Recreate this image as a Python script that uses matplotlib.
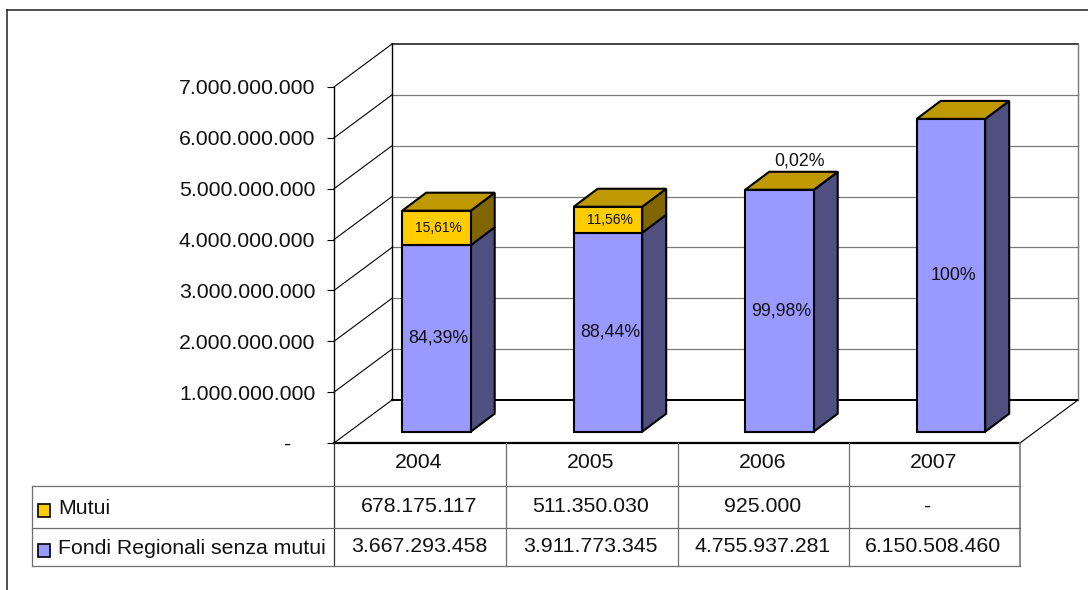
import matplotlib
matplotlib.use("Agg")
import matplotlib.pyplot as plt
from matplotlib.patches import Rectangle

plt.rcParams['font.family'] = ['Liberation Sans', 'DejaVu Sans']

years = ["2004", "2005", "2006", "2007"]
mutui = [678175117, 511350030, 925000, 0]
fondi = [3667293458, 3911773345, 4755937281, 6150508460]
pct_mutui = ["15,61%", "11,56%", "0,02%", ""]
pct_fondi = ["84,39%", "88,44%", "99,98%", "100%"]
ticks = [0, 1000000000, 2000000000, 3000000000, 4000000000, 5000000000, 6000000000, 7000000000]
name_mutui = "Mutui"
name_fondi = "Fondi Regionali senza mutui"

W, H = 1088, 590
C_BLUE, C_BLUE_SIDE = "#9999FF", "#4F4F80"
C_YEL, C_YEL_SIDE, C_YEL_TOP = "#FFCC00", "#806600", "#BF9900"
TXT = "#111111"


def fmt(v):
    return "-" if v == 0 else f"{v:,}".replace(",", ".")


fig = plt.figure(figsize=(W / 100, H / 100), dpi=100, facecolor="white")

# Main axes = front plane of the 3D box
L, R, B, T = 334, 1020, 443, 87
ax = fig.add_axes([L / W, 1 - B / H, (R - L) / W, (B - T) / H])
ax.set_xlim(0, 4)
ax.set_ylim(0, 7e9)
ax.patch.set_alpha(0)
for s in ax.spines.values():
    s.set_visible(False)

px_x = 4 / (R - L)
px_y = 7e9 / (B - T)
wall_dx, wall_dy = 58 * px_x, 43 * px_y
bar_w = 68.5 * px_x
bar_off_x = 68.2 * px_x
bar_off_y = 11.3 * px_y
dep_dx, dep_dy = 24 * px_x, 18 * px_y

# Walls and floor
for t in ticks[1:-1]:
    ax.plot([wall_dx, 4 + wall_dx], [t + wall_dy] * 2, color="#7a7a7a", lw=0.9, clip_on=False, zorder=1)
ax.plot([wall_dx, 4 + wall_dx], [7e9 + wall_dy] * 2, color="#111111", lw=1.1, clip_on=False, zorder=1)
ax.plot([wall_dx, 4 + wall_dx], [wall_dy] * 2, color="black", lw=1.4, clip_on=False, zorder=1)
ax.plot([4 + wall_dx] * 2, [wall_dy, 7e9 + wall_dy], color="#7a7a7a", lw=1.0, clip_on=False, zorder=1)
ax.plot([wall_dx] * 2, [wall_dy, 7e9 + wall_dy], color="black", lw=1.0, clip_on=False, zorder=1)
ax.plot([0, 0], [0, 7e9], color="black", lw=1.0, clip_on=False, zorder=1)
for t in ticks:
    ax.plot([0, wall_dx], [t, t + wall_dy], color="black", lw=0.8, clip_on=False, zorder=1)
ax.plot([4, 4 + wall_dx], [0, wall_dy], color="black", lw=0.8, clip_on=False, zorder=1)
ax.plot([0, 4], [0, 0], color="black", lw=1.6, clip_on=False, zorder=2)

ax.set_xticks([])
ax.set_yticks(ticks, [fmt(t) + ("    " if t == 0 else "") for t in ticks])
ax.tick_params(axis="y", length=5, width=0.8, pad=8.5, labelsize=15.3, labelcolor=TXT)

# Bars
EC, LW = "black", 1.5
for i in range(len(years)):
    x0 = i + bar_off_x
    x1 = x0 + bar_w
    y0 = bar_off_y
    y1 = y0 + fondi[i]
    y2 = y1 + mutui[i]
    # side faces
    ax.fill([x1, x1 + dep_dx, x1 + dep_dx, x1],
            [y0, y0 + dep_dy, y1 + dep_dy, y1],
            facecolor=C_BLUE_SIDE, edgecolor=EC, lw=LW, zorder=3, clip_on=False)
    if mutui[i] > 0:
        ax.fill([x1, x1 + dep_dx, x1 + dep_dx, x1],
                [y1, y1 + dep_dy, y2 + dep_dy, y2],
                facecolor=C_YEL_SIDE, edgecolor=EC, lw=LW, zorder=3, clip_on=False)
    # top face
    ax.fill([x0, x1, x1 + dep_dx, x0 + dep_dx],
            [y2, y2, y2 + dep_dy, y2 + dep_dy],
            facecolor=C_YEL_TOP, edgecolor=EC, lw=LW, zorder=3, clip_on=False)
    # front faces
    ax.bar(x0, fondi[i], width=bar_w, bottom=y0, align="edge",
           facecolor=C_BLUE, edgecolor=EC, lw=LW, zorder=4, clip_on=False)
    if mutui[i] > 1e7:
        ax.bar(x0, mutui[i], width=bar_w, bottom=y1, align="edge",
               facecolor=C_YEL, edgecolor=EC, lw=LW, zorder=4, clip_on=False)
    # labels
    cx = x0 + bar_w / 2 + 2 * px_x
    ax.text(cx, y0 + fondi[i] / 2, pct_fondi[i], ha="center", va="center",
            fontsize=12.8, color=TXT, zorder=6)
    if mutui[i] > 1e7:
        ax.text(cx, y1 + mutui[i] / 2, pct_mutui[i], ha="center", va="center",
                fontsize=10, color=TXT, zorder=6)
    elif pct_mutui[i]:
        ax.text(x0 + bar_w / 2 + dep_dx - 4 * px_x, y2 + dep_dy + 11 * px_y, pct_mutui[i], ha="center", va="center",
                fontsize=12.8, color=TXT, zorder=6)

# Overlay in pixel space: data table and outer frame
ov = fig.add_axes([0, 0, 1, 1])
ov.set_xlim(0, W)
ov.set_ylim(H, 0)
ov.axis("off")
ov.patch.set_alpha(0)

ov.plot([7, 7], [10, H], color="#222222", lw=1.1)
ov.plot([7, W], [10, 10], color="#222222", lw=1.1)

cols = [334, 506, 678, 849, 1020]
rows = [443, 486, 528, 566]
GRID = "#6e6e6e"
for c in cols[:-1]:
    ov.plot([c, c], [rows[0], rows[-1]], color="#333333" if c == 334 else GRID, lw=0.9)
ov.plot([cols[-1]] * 2, [rows[0], rows[-1]], color="#777777", lw=1.2)
ov.plot([32, 32], [rows[1], rows[-1]], color=GRID, lw=0.9)
for r in rows[1:]:
    ov.plot([32, cols[-1]], [r, r], color=GRID, lw=0.9)

for i in range(len(years)):
    cx = (cols[i] + cols[i + 1]) / 2 - 1.2
    ov.text(cx, 463, years[i], ha="center", va="center", fontsize=15.3, color=TXT)
    ov.text(cx, 507, fmt(mutui[i]) + ("  " if mutui[i] == 0 else ""), ha="center", va="center", fontsize=15.3, color=TXT)
    ov.text(cx, 547, fmt(fondi[i]), ha="center", va="center", fontsize=15.3, color=TXT)

ov.add_patch(Rectangle((37.5, 504), 12.5, 12.5, facecolor=C_YEL, edgecolor="black", lw=1.2))
ov.add_patch(Rectangle((37.5, 544), 12.5, 12.5, facecolor=C_BLUE, edgecolor="black", lw=1.2))
ov.text(58, 508.5, name_mutui, ha="left", va="center", fontsize=15.3, color=TXT)
ov.text(58, 548, name_fondi, ha="left", va="center", fontsize=15.3, color=TXT)

fig.savefig("out.png", dpi=100, facecolor="white")
